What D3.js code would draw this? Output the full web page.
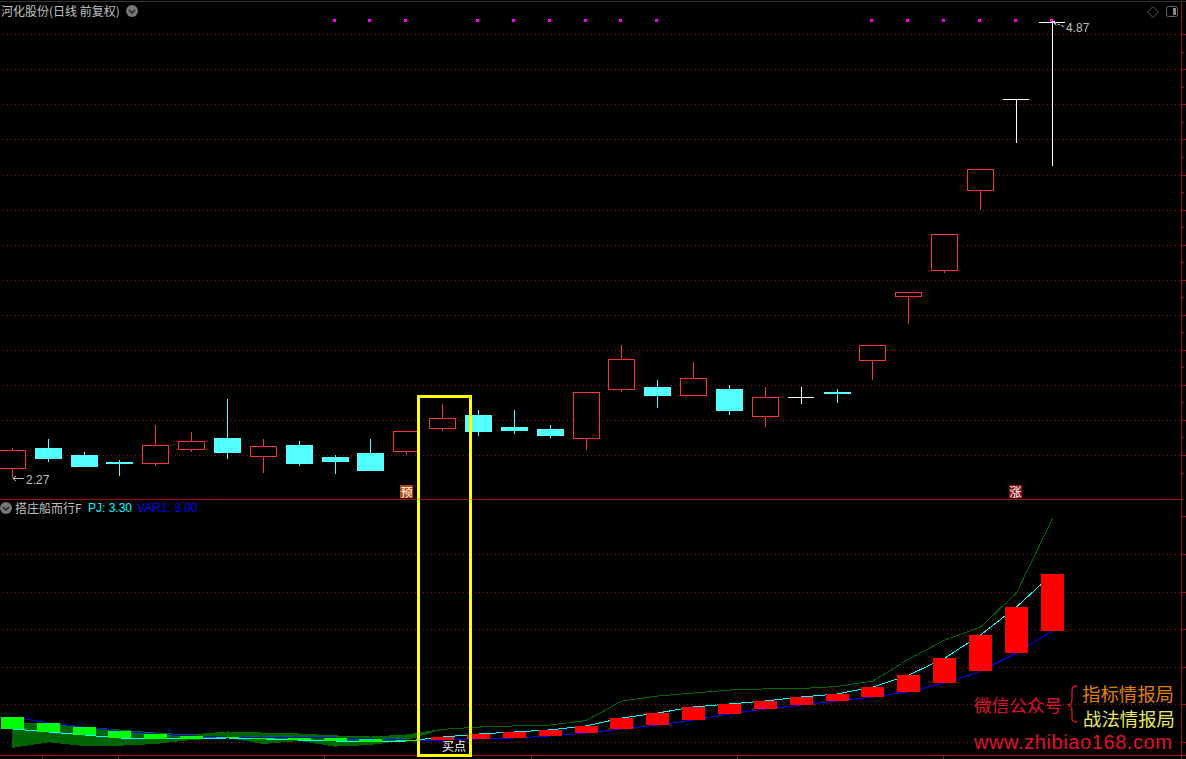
<!DOCTYPE html>
<html><head><meta charset="utf-8">
<style>
html,body{margin:0;padding:0;background:#000;overflow:hidden}
svg{display:block}
text{font-family:"Noto Sans CJK SC","Liberation Sans",sans-serif}
</style>
<script src="https://cdn.jsdelivr.net/npm/d3@7/dist/d3.min.js"></script>
</head><body><svg id="c" width="1186" height="759"></svg>
<script>
const stockTitle = "河化股份(日线 前复权)";
const indicatorTitle = "搭庄船而行F";
const legendPJ = "PJ: 3.30";
const legendVAR = "VAR1: 3.00";

const opens  = [2.32,2.44,2.40,2.36,2.35,2.43,2.50,2.39,2.46,2.39,2.41,2.42,2.55,2.63,2.56,2.55,2.49,2.77,2.79,2.74,2.78,2.62,2.73,2.76,2.94,3.30,3.45,3.91,4.43,4.87];
const closes = [2.43,2.38,2.33,2.35,2.46,2.48,2.41,2.45,2.35,2.36,2.31,2.54,2.61,2.53,2.54,2.51,2.76,2.95,2.74,2.84,2.65,2.73,2.73,2.75,3.03,3.33,3.66,4.03,4.43,4.87];
const highs  = [2.44,2.49,2.42,2.37,2.57,2.53,2.72,2.49,2.48,2.40,2.49,2.54,2.69,2.66,2.66,2.57,2.76,3.03,2.83,2.93,2.80,2.79,2.79,2.78,3.03,3.33,3.66,4.03,4.43,4.87];
const lows   = [2.27,2.36,2.33,2.28,2.34,2.42,2.38,2.30,2.34,2.29,2.31,2.40,2.54,2.51,2.52,2.50,2.43,2.76,2.67,2.74,2.63,2.56,2.69,2.70,2.83,3.15,3.44,3.80,4.18,4.05];

const priceGrid = [4.8,4.6,4.4,4.2,4.0,3.8,3.6,3.4,3.2,3.0,2.8,2.6,2.4];
const priceMinor = [4.7,4.5,4.3,4.1,3.9,3.7,3.5,3.3,3.1,2.9,2.7,2.5,2.3];
const signalIdx = [9,10,11,13,14,15,16,17,18,24,25,26,27,28,29];
const signalPrice = 4.88;

const pj   = [2.471,2.455,2.439,2.423,2.418,2.418,2.423,2.418,2.412,2.407,2.402,2.407,2.428,2.444,2.455,2.466,2.487,2.529,2.556,2.588,2.604,2.620,2.641,2.657,2.694,2.758,2.848,2.971,3.120,3.295];
const var1 = [2.535,2.503,2.481,2.460,2.444,2.434,2.428,2.423,2.423,2.423,2.418,2.412,2.412,2.418,2.423,2.434,2.449,2.471,2.492,2.519,2.551,2.577,2.598,2.620,2.641,2.668,2.715,2.779,2.875,2.992];
const greenTop = [2.503,2.497,2.481,2.465,2.449,2.439,2.455,2.449,2.444,2.434,2.428,2.439,2.469,2.481,2.487,2.492,2.516,2.620,2.646,2.662,2.678,2.684,2.686,2.697,2.726,2.843,2.944,3.013,3.194,3.588];
const greenLow = [2.370,2.400,2.380,2.382,2.391,2.412,2.423,2.391,2.407,2.377,2.386,2.411,2.469];
const lowerGrid = [3.4,3.2,3.0,2.8,2.6,2.4];
const lowerTicks = [3.6,3.4,3.2,3.0,2.8,2.6,2.4];
const dateTicks = [42,118,324,531,737,943];

const RED="#ff3232", CY="#54ffff", GRID="#861414", AX="#a80c0c";
const svg=d3.select("#c");
const x=d3.scaleLinear().domain([0,29]).range([12.3,1052.3]);
const y=d3.scaleLinear().domain([4.8,2.4]).range([34.5,455.2]);
const yL=d3.scaleLinear().domain([3.4,2.4]).range([554.3,742.3]);
const px=i=>Math.floor(x(i));

svg.append("rect").attr("width",1186).attr("height",759).attr("fill","#000");
svg.append("line").attr("x1",0).attr("x2",1186).attr("y1",1.5).attr("y2",1.5).attr("stroke","#333");

// grids through axes
function grid(scale,vals,off){
  const g=svg.append("g").attr("transform","translate(3,0)")
    .call(d3.axisRight(scale).offset(off).tickValues(vals).tickSize(1177).tickFormat(""));
  g.select(".domain").remove();
  g.selectAll("line").attr("stroke",GRID).attr("stroke-dasharray","1,3").attr("shape-rendering","crispEdges");
}
grid(y,priceGrid,0.3); grid(yL,lowerGrid,0.2);

// right axes
function tk(scale,vals,len,off){
  const g=svg.append("g").attr("transform","translate(1181,0)")
    .call(d3.axisRight(scale).offset(off).tickValues(vals).tickSize(len).tickFormat(""));
  g.select(".domain").remove();
  g.selectAll("line").attr("stroke",AX).attr("shape-rendering","crispEdges");
}
tk(y,priceGrid,5,0.3); tk(y,priceMinor,3,0.3); tk(yL,lowerTicks,5,0.2);
const L=(a,b,c,d,col)=>svg.append("line").attr("x1",a).attr("y1",b).attr("x2",c).attr("y2",d).attr("stroke",col).attr("shape-rendering","crispEdges");
L(1181.5,2,1181.5,759,AX);
L(0,499.5,1181,499.5,"#a00c0c");
L(0,755.5,1186,755.5,AX);
const xa=d3.scaleIdentity().domain([0,1186]);
const xg=svg.append("g").attr("transform","translate(0,756)").call(d3.axisBottom(xa).tickValues(dateTicks).tickSize(3).tickFormat(""));
xg.select(".domain").remove();
xg.selectAll("line").attr("stroke",AX).attr("shape-rendering","crispEdges");

// signals
svg.append("g").selectAll("rect").data(signalIdx).join("rect")
  .attr("x",i=>px(i)-2).attr("y",19).attr("width",3).attr("height",3).attr("fill","#ff00ff");

// candles
const cg=svg.append("g").attr("shape-rendering","crispEdges");
opens.forEach((o,i)=>{
  const c=closes[i], X=px(i);
  const col = c>o ? RED : (c<o ? CY : "#ffffff");
  const top=Math.round(y(Math.max(o,c))), bot=Math.round(y(Math.min(o,c)));
  cg.append("rect").attr("x",X).attr("width",1).attr("y",Math.round(y(highs[i]))).attr("height",Math.max(0,Math.round(y(lows[i]))-Math.round(y(highs[i])))).attr("fill",col);
  if(c>o){
    cg.append("rect").attr("x",X-12.5).attr("y",top+.5).attr("width",26).attr("height",Math.max(bot-top-1,1)).attr("fill","#000").attr("stroke",col);
  } else if(c<o){
    cg.append("rect").attr("x",X-13).attr("y",top).attr("width",27).attr("height",Math.max(bot-top,1)).attr("fill",col);
  } else {
    cg.append("rect").attr("x",X-13).attr("y",top).attr("width",26).attr("height",1).attr("fill",col);
  }
});

// lower panel
const idx=d3.range(30);
svg.append("path").datum(greenLow.map((v,i)=>i))
  .attr("d",d3.area().x(i=>x(i)).y0(i=>yL(greenLow[i])).y1(i=>yL(greenTop[i])))
  .attr("fill","#006400").attr("shape-rendering","crispEdges");
const ln=d3.line().x(d=>x(d[0])).y(d=>yL(d[1]));
const drawLine=(arr,col)=>svg.append("path").attr("d",ln(arr.map((v,i)=>[i,v]))).attr("fill","none").attr("stroke",col).attr("stroke-width",1).attr("shape-rendering","crispEdges");
drawLine(greenTop,"#006a00");
drawLine(pj,"#00ffff");
drawLine(var1,"#0000ff");
svg.append("g").attr("shape-rendering","crispEdges").selectAll("rect").data(idx).join("rect")
  .attr("x",i=>px(i)-11).attr("width",23)
  .attr("y",i=>Math.round(yL(Math.max(pj[i],var1[i]))))
  .attr("height",i=>Math.max(1,Math.round(yL(Math.min(pj[i],var1[i])))-Math.round(yL(Math.max(pj[i],var1[i])))))
  .attr("fill",i=>pj[i]>=var1[i]?"#ff0000":"#00ff00");

// yellow box
svg.append("rect").attr("x",418.5).attr("y",396.5).attr("width",52).attr("height",358.7).attr("fill","none").attr("stroke","#ffff00").attr("stroke-width",3).attr("shape-rendering","crispEdges");

// texts
const T=(s,a,b,col,size,anchor)=>svg.append("text").attr("x",a).attr("y",b).attr("fill",col).attr("font-size",size).attr("text-anchor",anchor||"start").attr("dominant-baseline","central").text(s);
T(stockTitle,1,10,"#c0c0c0",12);
T(indicatorTitle,15,507.5,"#c0c0c0",12);
T(legendPJ,88,508,"#00ffff",12).style("font-family","Liberation Sans");
T(legendVAR,137,508,"#0000ff",12).style("font-family","Liberation Sans");
T("2.27",26,479.5,"#c0c0c0",12).style("font-family","Liberation Sans");
T("4.87",1066,28,"#c0c0c0",12).style("font-family","Liberation Sans");
T("买点",442,745,"#ffffff",12);

// small arrows
svg.append("path").attr("d","M24 478.5H13M16 476L13 478.5L16 481").attr("fill","none").attr("stroke","#c0c0c0");
svg.append("path").attr("d","M1064 26.5L1054 23M1054 23L1058 22M1054 23L1057 26").attr("fill","none").attr("stroke","#c0c0c0").attr("stroke-dasharray","3,1");
svg.append("rect").attr("x",1052).attr("y",21).attr("width",3).attr("height",2).attr("fill","#f0c0f0");

// icons
function chev(cx,cy){
  svg.append("circle").attr("cx",cx).attr("cy",cy).attr("r",6).attr("fill","#777");
  svg.append("path").attr("d",`M${cx-3} ${cy-1}L${cx} ${cy+2}L${cx+3} ${cy-1}`).attr("fill","none").attr("stroke","#222").attr("stroke-width",1.5);
}
chev(132,11); chev(6,508);
svg.append("path").attr("d","M1153 6.5L1158.5 12L1153 17.5L1147.5 12Z").attr("fill","none").attr("stroke","#555");
svg.append("rect").attr("x",1166.5).attr("y",6.5).attr("width",11).attr("height",10).attr("rx",2).attr("fill","none").attr("stroke","#666");
svg.append("rect").attr("x",1173).attr("y",8).attr("width",3).attr("height",7).attr("fill","#888");

// badges
svg.append("rect").attr("x",400).attr("y",485).attr("width",13).attr("height",13).attr("fill","#b44a0c");
T("预",400.5,491,"#ffffff",12);
svg.append("rect").attr("x",1009).attr("y",485).attr("width",13).attr("height",13).attr("fill","#8a1212");
T("涨",1009.5,491,"#ffffff",12);

// watermark
T("微信公众号",974,704,"#e0102a",17.6);
svg.append("path").attr("d","M1077 686C1071 686 1072 690 1072 696C1072 702 1072 704 1068 705C1072 706 1072 708 1072 714C1072 720 1071 722 1077 722").attr("fill","none").attr("stroke","#e0102a").attr("stroke-width",1.3);
T("指标情报局",1082,693,"#e08000",18.4);
T("战法情报局",1083,718,"#e8e860",18.4);
T("www.zhibiao168.com",974,742,"#e0102a",20).style("font-family","Liberation Sans").attr("textLength",198).attr("lengthAdjust","spacing");
</script></body></html>
